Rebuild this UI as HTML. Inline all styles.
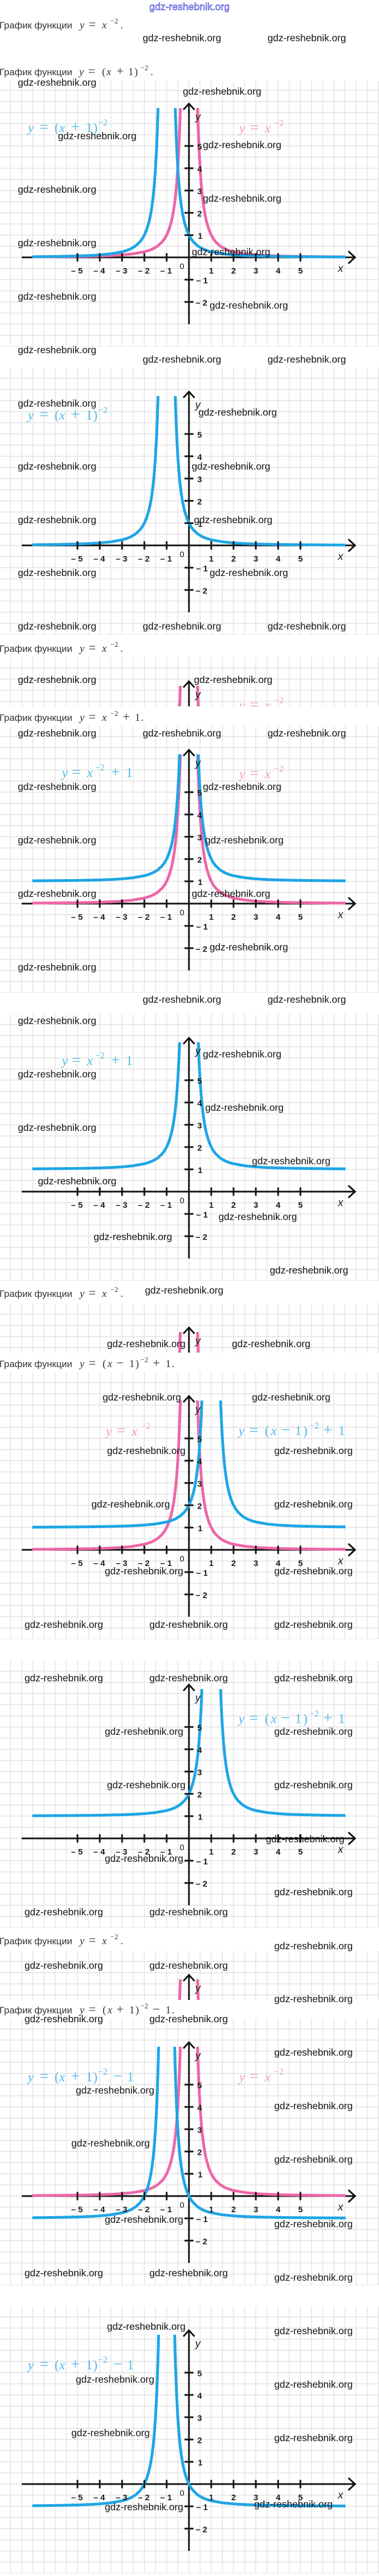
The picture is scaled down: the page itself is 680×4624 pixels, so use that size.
<!DOCTYPE html>
<html><head><meta charset="utf-8"><style>
html,body{margin:0;padding:0;background:#fff}
body{width:680px;height:4624px;overflow:hidden;position:relative}
svg{position:absolute;left:0;top:0;display:block}
.w{font:17.6px "Liberation Sans",sans-serif;fill:#111}
.h{font:17px "Liberation Sans","DejaVu Sans",sans-serif;fill:#333}
.m{font:19px "Liberation Serif",serif;fill:#333}
.i{font-style:italic}
.s{font-size:13px}
.o{font-size:23px}
.lb{font:24px "Liberation Serif",serif}
.lo{font-size:29px}
.ls{font-size:16px}
.b{fill:#56b8e8}
.p{fill:#f29cc6}
.n{font:bold 15px "Liberation Sans",sans-serif;fill:#1a1a1a}
.z{font:15px "Liberation Sans",sans-serif;fill:#1a1a1a}
.v{font:italic 19px "Liberation Sans",sans-serif;fill:#1a1a1a}
.lk{font:17.5px "Liberation Sans",sans-serif;fill:none;stroke:#3535d0;stroke-width:0.75}
</style></head><body>
<svg width="680" height="4624" viewBox="0 0 680 4624" xmlns="http://www.w3.org/2000/svg">
<defs>
<pattern id="gp" width="20" height="20" patternUnits="userSpaceOnUse" x="-10" y="-10"><path d="M0,10H20M10,0V20" stroke="#e2e2e2" stroke-width="1.4" fill="none"/></pattern>
<clipPath id="cp"><rect x="-281" y="-268" width="562" height="420"/></clipPath>
<clipPath id="sc"><rect x="-339" y="-319" width="680" height="88"/></clipPath>
<path id="r" fill="none" stroke-width="5" stroke-linejoin="round" d="M14.16,-319.2L14.4,-308.6L15.2,-277L16,-250L16.8,-226.8L18,-197.5L20,-160L22,-132.2L24,-111.1L26,-94.7L28,-81.6L30,-71.1L32,-62.5L36,-49.4L40,-40L44,-33.1L48,-27.8L56,-20.4L64,-15.6L72,-12.3L80,-10L100,-6.4L120,-4.44L140,-3.27L160,-2.5L200,-1.6L260,-0.95L340,-0.55"/>
<g id="c"><use href="#r"/><use href="#r" transform="scale(-1,1)"/></g>
<g id="ax" fill="none" stroke="#111" stroke-width="3"><path d="M-300,0H297M286,-11L298,0L286,11M0,120V-274M-10,-265L0,-276L10,-265"/></g>
<text id="yv" class="v" x="16" y="-246" text-anchor="middle">y</text>
<g id="tk">
<path fill="none" stroke="#111" stroke-width="3" d="M-200,-7.5V7.5M-160,-7.5V7.5M-120,-7.5V7.5M-80,-7.5V7.5M-40,-7.5V7.5M40,-7.5V7.5M80,-7.5V7.5M120,-7.5V7.5M160,-7.5V7.5M200,-7.5V7.5M-8,-200H8M-8,-160H8M-8,-120H8M-8,-80H8M-8,-40H8M-8,40H8M-8,80H8"/>
<g class="n" text-anchor="middle">
<text x="-201" y="29">– 5</text><text x="-161" y="29">– 4</text><text x="-121" y="29">– 3</text><text x="-81" y="29">– 2</text><text x="-41" y="29">– 1</text>
<text x="40" y="29">1</text><text x="80" y="29">2</text><text x="120" y="29">3</text><text x="160" y="29">4</text><text x="200" y="29">5</text>
</g>
<g class="n">
<text x="15" y="-193.5">5</text><text x="15" y="-153.5">4</text><text x="15" y="-113.5">3</text><text x="15" y="-73.5">2</text><text x="16" y="-33.5">1</text>
<text x="13" y="46.5">– 1</text><text x="12" y="86.5">– 2</text>
</g>
<text class="z" x="-12.5" y="21" text-anchor="middle">0</text>
<text class="v" x="272" y="26" text-anchor="middle">x</text>
<use href="#yv"/>
</g>
<text id="Lp" class="lb p" y="0"><tspan x="90" class="i">y</tspan><tspan x="109" class="lo">=</tspan><tspan x="136" class="i">x</tspan><tspan x="153" dy="-12" class="ls">−2</tspan></text>
<text id="Lb1" class="lb b" y="0"><tspan x="-289" class="i">y</tspan><tspan x="-268" class="lo">=</tspan><tspan x="-241" dx="0">(</tspan><tspan x="-233" class="i">x</tspan><tspan x="-212" class="lo">+</tspan><tspan x="-185">1</tspan><tspan x="-172">)</tspan><tspan x="-163" dy="-12" class="ls">−2</tspan></text>
<text id="Lb3" class="lb b" y="0"><tspan x="-228" class="i">y</tspan><tspan x="-210" class="lo">=</tspan><tspan x="-183" class="i">x</tspan><tspan x="-168" dy="-12" class="ls">−2</tspan><tspan x="-140" dy="12" class="lo">+</tspan><tspan x="-113">1</tspan></text>
<text id="Lb5" class="lb b" y="0"><tspan x="89" class="i">y</tspan><tspan x="108" class="lo">=</tspan><tspan x="136">(</tspan><tspan x="147" class="i">x</tspan><tspan x="165" class="lo">−</tspan><tspan x="190">1</tspan><tspan x="205">)</tspan><tspan x="216" dy="-12" class="ls">−2</tspan><tspan x="241" dy="12" class="lo">+</tspan><tspan x="268">1</tspan></text>
<text id="Lb7" class="lb b" y="0"><tspan x="-289" class="i">y</tspan><tspan x="-268" class="lo">=</tspan><tspan x="-241">(</tspan><tspan x="-233" class="i">x</tspan><tspan x="-212" class="lo">+</tspan><tspan x="-185">1</tspan><tspan x="-172">)</tspan><tspan x="-163" dy="-12" class="ls">−2</tspan><tspan x="-136" dy="12" class="lo">−</tspan><tspan x="-111">1</tspan></text>
</defs>

<rect x="0" y="0" width="680" height="4624" fill="#fff"/>

<!-- header link -->
<text class="lk" x="268" y="18" textLength="144" lengthAdjust="spacingAndGlyphs">gdz-reshebnik.org</text>

<!-- G1 -->
<g transform="translate(339,462)">
<rect x="-339" y="-317" width="680" height="477" fill="url(#gp)"/>
<use href="#ax"/>
<g clip-path="url(#cp)"><use href="#c" stroke="#ee66a8"/><use href="#c" stroke="#1ea6e6" transform="translate(-40,0)"/></g>
<use href="#tk"/>
<use href="#Lb1" y="-225"/><use href="#Lp" y="-224"/>
</g>

<!-- G2 -->
<g transform="translate(339,979)">
<rect x="-339" y="-319" width="680" height="479" fill="url(#gp)"/>
<use href="#ax"/>
<g clip-path="url(#cp)"><use href="#c" stroke="#1ea6e6" transform="translate(-40,0)"/></g>
<use href="#tk"/>
<use href="#Lb1" y="-226"/>
</g>

<!-- strip 1 -->
<g transform="translate(339,1499)" clip-path="url(#sc)">
<rect x="-339" y="-319" width="680" height="88" fill="url(#gp)"/>
<use href="#ax"/>
<g clip-path="url(#cp)"><use href="#c" stroke="#ee66a8"/></g>
<use href="#yv"/>
<use href="#Lp" y="-225"/>
</g>

<!-- G3 -->
<g transform="translate(339,1622)">
<rect x="-339" y="-319" width="680" height="479" fill="url(#gp)"/>
<use href="#ax"/>
<g clip-path="url(#cp)"><use href="#c" stroke="#ee66a8"/><use href="#c" stroke="#1ea6e6" transform="translate(0,-40)"/></g>
<use href="#tk"/>
<use href="#Lb3" y="-227"/><use href="#Lp" y="-225"/>
</g>

<!-- G4 -->
<g transform="translate(339,2139)">
<rect x="-339" y="-319" width="680" height="479" fill="url(#gp)"/>
<use href="#ax"/>
<g clip-path="url(#cp)"><use href="#c" stroke="#1ea6e6" transform="translate(0,-40)"/></g>
<use href="#tk"/>
<use href="#Lb3" y="-227"/>
</g>

<!-- strip 2 -->
<g transform="translate(339,2659)" clip-path="url(#sc)">
<rect x="-339" y="-319" width="680" height="88" fill="url(#gp)"/>
<use href="#ax"/>
<g clip-path="url(#cp)"><use href="#c" stroke="#ee66a8"/></g>
<use href="#yv"/>
</g>

<!-- G5 -->
<g transform="translate(339,2782)">
<rect x="-339" y="-319" width="680" height="479" fill="url(#gp)"/>
<use href="#ax"/>
<g clip-path="url(#cp)"><use href="#c" stroke="#ee66a8"/><use href="#c" stroke="#1ea6e6" transform="translate(40,-40)"/></g>
<use href="#tk"/>
<use href="#Lp" y="-205" transform="translate(-239,0)"/><use href="#Lb5" y="-206"/>
</g>

<!-- G6 -->
<g transform="translate(339,3300)">
<rect x="-339" y="-319" width="680" height="479" fill="url(#gp)"/>
<use href="#ax"/>
<g clip-path="url(#cp)"><use href="#c" stroke="#1ea6e6" transform="translate(40,-40)"/></g>
<use href="#tk"/>
<use href="#Lb5" y="-207"/>
</g>

<!-- strip 3 -->
<g transform="translate(339,3821)" clip-path="url(#sc)">
<rect x="-339" y="-319" width="680" height="88" fill="url(#gp)"/>
<use href="#ax"/>
<g clip-path="url(#cp)"><use href="#c" stroke="#ee66a8"/></g>
<use href="#yv"/>
</g>

<!-- G7 -->
<g transform="translate(339,3942)">
<rect x="-339" y="-319" width="680" height="479" fill="url(#gp)"/>
<use href="#ax"/>
<g clip-path="url(#cp)"><use href="#c" stroke="#ee66a8"/><use href="#c" stroke="#1ea6e6" transform="translate(-40,40)"/></g>
<use href="#tk"/>
<use href="#Lb7" y="-206"/><use href="#Lp" y="-206"/>
</g>

<!-- G8 -->
<g transform="translate(339,4459)">
<rect x="-339" y="-319" width="680" height="479" fill="url(#gp)"/>
<use href="#ax"/>
<g clip-path="url(#cp)"><use href="#c" stroke="#1ea6e6" transform="translate(-40,40)"/></g>
<use href="#tk"/>
<use href="#Lb7" y="-206"/>
</g>

<!-- headings -->
<text class="h" x="-1" y="51">График функции</text>
<text class="m" y="51"><tspan x="143" class="i">y</tspan><tspan x="159" class="o">=</tspan><tspan x="183" class="i">x</tspan><tspan x="198" dy="-9" class="s">−2</tspan><tspan x="216" dy="9">.</tspan></text>

<text class="h" x="-1" y="135">График функции</text>
<text class="m" y="135"><tspan x="142" class="i">y</tspan><tspan x="158" class="o">=</tspan><tspan x="183">(</tspan><tspan x="191" class="i">x</tspan><tspan x="209" class="o">+</tspan><tspan x="230">1</tspan><tspan x="241">)</tspan><tspan x="252" dy="-9" class="s">−2</tspan><tspan x="270" dy="9">.</tspan></text>

<text class="h" x="-1" y="1170">График функции</text>
<text class="m" y="1170"><tspan x="143" class="i">y</tspan><tspan x="159" class="o">=</tspan><tspan x="183" class="i">x</tspan><tspan x="198" dy="-9" class="s">−2</tspan><tspan x="216" dy="9">.</tspan></text>

<text class="h" x="-1" y="1294">График функции</text>
<text class="m" y="1294"><tspan x="143" class="i">y</tspan><tspan x="159" class="o">=</tspan><tspan x="183" class="i">x</tspan><tspan x="198" dy="-9" class="s">−2</tspan><tspan x="220" dy="9" class="o">+</tspan><tspan x="242">1</tspan><tspan x="253">.</tspan></text>

<text class="h" x="-1" y="2328">График функции</text>
<text class="m" y="2328"><tspan x="143" class="i">y</tspan><tspan x="159" class="o">=</tspan><tspan x="183" class="i">x</tspan><tspan x="198" dy="-9" class="s">−2</tspan><tspan x="216" dy="9">.</tspan></text>

<text class="h" x="-1" y="2454">График функции</text>
<text class="m" y="2454"><tspan x="143" class="i">y</tspan><tspan x="159" class="o">=</tspan><tspan x="184">(</tspan><tspan x="193" class="i">x</tspan><tspan x="209" class="o">−</tspan><tspan x="232">1</tspan><tspan x="243">)</tspan><tspan x="252" dy="-9" class="s">−2</tspan><tspan x="274" dy="9" class="o">+</tspan><tspan x="297">1</tspan><tspan x="308">.</tspan></text>

<text class="h" x="-1" y="3490">График функции</text>
<text class="m" y="3490"><tspan x="143" class="i">y</tspan><tspan x="159" class="o">=</tspan><tspan x="183" class="i">x</tspan><tspan x="198" dy="-9" class="s">−2</tspan><tspan x="216" dy="9">.</tspan></text>

<text class="h" x="-1" y="3614">График функции</text>
<text class="m" y="3614"><tspan x="143" class="i">y</tspan><tspan x="159" class="o">=</tspan><tspan x="184">(</tspan><tspan x="193" class="i">x</tspan><tspan x="209" class="o">+</tspan><tspan x="232">1</tspan><tspan x="243">)</tspan><tspan x="252" dy="-9" class="s">−2</tspan><tspan x="274" dy="9" class="o">−</tspan><tspan x="297">1</tspan><tspan x="308">.</tspan></text>

<!-- watermarks -->
<g class="w">
<text x="256" y="74">gdz-reshebnik.org</text><text x="480" y="74">gdz-reshebnik.org</text>
<text x="32" y="154">gdz-reshebnik.org</text>
<text x="328" y="170">gdz-reshebnik.org</text>
<text x="104" y="250">gdz-reshebnik.org</text>
<text x="364" y="266">gdz-reshebnik.org</text>
<text x="32" y="346">gdz-reshebnik.org</text>
<text x="364" y="362">gdz-reshebnik.org</text>
<text x="32" y="442">gdz-reshebnik.org</text>
<text x="344" y="458">gdz-reshebnik.org</text>
<text x="32" y="538">gdz-reshebnik.org</text>
<text x="376" y="554">gdz-reshebnik.org</text>
<text x="32" y="634">gdz-reshebnik.org</text>
<text x="256" y="651">gdz-reshebnik.org</text><text x="480" y="651">gdz-reshebnik.org</text>
<text x="32" y="730">gdz-reshebnik.org</text>
<text x="356" y="746">gdz-reshebnik.org</text>
<text x="32" y="843">gdz-reshebnik.org</text><text x="344" y="843">gdz-reshebnik.org</text>
<text x="32" y="939">gdz-reshebnik.org</text><text x="348" y="939">gdz-reshebnik.org</text>
<text x="32" y="1034">gdz-reshebnik.org</text><text x="376" y="1034">gdz-reshebnik.org</text>
<text x="32" y="1130">gdz-reshebnik.org</text><text x="256" y="1130">gdz-reshebnik.org</text><text x="480" y="1130">gdz-reshebnik.org</text>
<text x="32" y="1226">gdz-reshebnik.org</text><text x="348" y="1226">gdz-reshebnik.org</text>
<text x="32" y="1322">gdz-reshebnik.org</text><text x="256" y="1322">gdz-reshebnik.org</text><text x="480" y="1322">gdz-reshebnik.org</text>
<text x="32" y="1418">gdz-reshebnik.org</text><text x="364" y="1418">gdz-reshebnik.org</text>
<text x="32" y="1514">gdz-reshebnik.org</text><text x="368" y="1514">gdz-reshebnik.org</text>
<text x="32" y="1610">gdz-reshebnik.org</text><text x="344" y="1610">gdz-reshebnik.org</text>
<text x="376" y="1706">gdz-reshebnik.org</text>
<text x="32" y="1742">gdz-reshebnik.org</text>
<text x="256" y="1800">gdz-reshebnik.org</text><text x="480" y="1800">gdz-reshebnik.org</text>
<text x="32" y="1838">gdz-reshebnik.org</text>
<text x="364" y="1898">gdz-reshebnik.org</text>
<text x="32" y="1934">gdz-reshebnik.org</text>
<text x="368" y="1994">gdz-reshebnik.org</text>
<text x="32" y="2030">gdz-reshebnik.org</text>
<text x="452" y="2090">gdz-reshebnik.org</text>
<text x="68" y="2126">gdz-reshebnik.org</text>
<text x="392" y="2190">gdz-reshebnik.org</text>
<text x="168" y="2226">gdz-reshebnik.org</text>
<text x="484" y="2286">gdz-reshebnik.org</text>
<text x="260" y="2322">gdz-reshebnik.org</text>
<text x="192" y="2418">gdz-reshebnik.org</text><text x="416" y="2418">gdz-reshebnik.org</text>
<text x="184" y="2514">gdz-reshebnik.org</text><text x="452" y="2514">gdz-reshebnik.org</text>
<text x="192" y="2610">gdz-reshebnik.org</text><text x="492" y="2610">gdz-reshebnik.org</text>
<text x="164" y="2706">gdz-reshebnik.org</text><text x="492" y="2706">gdz-reshebnik.org</text>
<text x="188" y="2826">gdz-reshebnik.org</text><text x="492" y="2826">gdz-reshebnik.org</text>
<text x="44" y="2922">gdz-reshebnik.org</text><text x="268" y="2922">gdz-reshebnik.org</text><text x="492" y="2922">gdz-reshebnik.org</text>
<text x="44" y="3018">gdz-reshebnik.org</text><text x="268" y="3018">gdz-reshebnik.org</text><text x="492" y="3018">gdz-reshebnik.org</text>
<text x="188" y="3114">gdz-reshebnik.org</text><text x="492" y="3114">gdz-reshebnik.org</text>
<text x="192" y="3210">gdz-reshebnik.org</text><text x="492" y="3210">gdz-reshebnik.org</text>
<text x="477" y="3307">gdz-reshebnik.org</text>
<text x="188" y="3342">gdz-reshebnik.org</text>
<text x="492" y="3402">gdz-reshebnik.org</text>
<text x="44" y="3438">gdz-reshebnik.org</text><text x="268" y="3438">gdz-reshebnik.org</text>
<text x="492" y="3499">gdz-reshebnik.org</text>
<text x="44" y="3534">gdz-reshebnik.org</text><text x="268" y="3534">gdz-reshebnik.org</text>
<text x="492" y="3594">gdz-reshebnik.org</text>
<text x="44" y="3630">gdz-reshebnik.org</text><text x="268" y="3630">gdz-reshebnik.org</text>
<text x="492" y="3690">gdz-reshebnik.org</text>
<text x="136" y="3758">gdz-reshebnik.org</text>
<text x="492" y="3786">gdz-reshebnik.org</text>
<text x="128" y="3853">gdz-reshebnik.org</text>
<text x="492" y="3882">gdz-reshebnik.org</text>
<text x="188" y="3990">gdz-reshebnik.org</text>
<text x="492" y="3998">gdz-reshebnik.org</text>
<text x="44" y="4086">gdz-reshebnik.org</text><text x="268" y="4086">gdz-reshebnik.org</text>
<text x="492" y="4094">gdz-reshebnik.org</text>
<text x="192" y="4182">gdz-reshebnik.org</text>
<text x="492" y="4190">gdz-reshebnik.org</text>
<text x="136" y="4277">gdz-reshebnik.org</text>
<text x="492" y="4286">gdz-reshebnik.org</text>
<text x="128" y="4373">gdz-reshebnik.org</text>
<text x="492" y="4382">gdz-reshebnik.org</text>
<text x="188" y="4506">gdz-reshebnik.org</text>
<text x="456" y="4501">gdz-reshebnik.org</text>
</g>
</svg>
</body></html>
